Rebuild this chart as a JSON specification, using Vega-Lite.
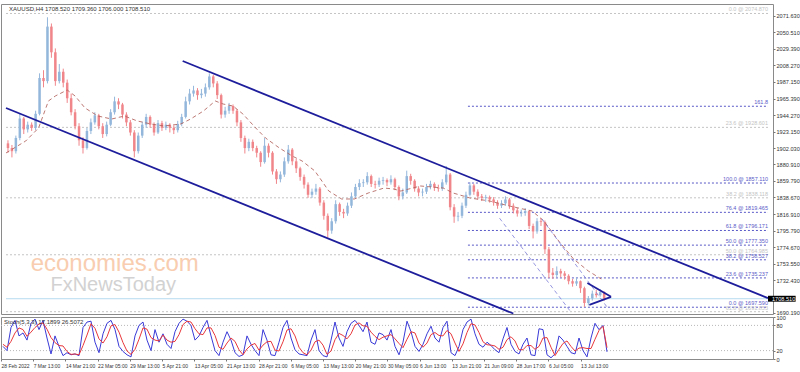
{
"$schema":"https://vega.github.io/schema/vega-lite/v6.json",
"background":"white",
"padding":{"left":0,"top":3,"right":0,"bottom":0},
"spacing":3,
"bounds":"flush",
"datasets":{
"bars":[
{"x":2,"o":1908,"h":1912,"l":1896,"c":1902,"k":30,"d":35},
{"x":6,"o":1902,"h":1906,"l":1890,"c":1898,"k":20,"d":28},
{"x":10,"o":1898,"h":1918,"l":1895,"c":1915,"k":75,"d":42},
{"x":14,"o":1915,"h":1946,"l":1912,"c":1940,"k":92,"d":62},
{"x":18,"o":1940,"h":1942,"l":1920,"c":1926,"k":55,"d":74},
{"x":22,"o":1926,"h":1936,"l":1922,"c":1932,"k":62,"d":70},
{"x":26,"o":1932,"h":1935,"l":1924,"c":1928,"k":45,"d":54},
{"x":30,"o":1928,"h":1950,"l":1925,"c":1946,"k":85,"d":64},
{"x":34,"o":1946,"h":1998,"l":1944,"c":1992,"k":95,"d":75},
{"x":38,"o":1992,"h":2002,"l":1980,"c":1988,"k":70,"d":83},
{"x":42,"o":1988,"h":2070,"l":1985,"c":2058,"k":92,"d":86},
{"x":46,"o":2058,"h":2062,"l":2018,"c":2025,"k":50,"d":71},
{"x":50,"o":2025,"h":2030,"l":1982,"c":1988,"k":12,"d":51},
{"x":54,"o":1988,"h":2010,"l":1985,"c":2000,"k":55,"d":39},
{"x":58,"o":2000,"h":2004,"l":1980,"c":1986,"k":30,"d":32},
{"x":62,"o":1986,"h":1990,"l":1960,"c":1966,"k":8,"d":31},
{"x":66,"o":1966,"h":1972,"l":1944,"c":1948,"k":15,"d":18},
{"x":70,"o":1948,"h":1952,"l":1926,"c":1930,"k":10,"d":11},
{"x":74,"o":1930,"h":1934,"l":1905,"c":1912,"k":12,"d":12},
{"x":78,"o":1912,"h":1916,"l":1895,"c":1902,"k":8,"d":10},
{"x":82,"o":1902,"h":1928,"l":1900,"c":1924,"k":75,"d":32},
{"x":86,"o":1924,"h":1940,"l":1920,"c":1935,"k":88,"d":57},
{"x":90,"o":1935,"h":1948,"l":1932,"c":1944,"k":90,"d":84},
{"x":94,"o":1944,"h":1946,"l":1926,"c":1930,"k":40,"d":73},
{"x":98,"o":1930,"h":1934,"l":1915,"c":1920,"k":15,"d":48},
{"x":102,"o":1920,"h":1936,"l":1917,"c":1932,"k":60,"d":38},
{"x":106,"o":1932,"h":1952,"l":1930,"c":1948,"k":85,"d":53},
{"x":110,"o":1948,"h":1968,"l":1945,"c":1962,"k":92,"d":79},
{"x":114,"o":1962,"h":1966,"l":1952,"c":1958,"k":70,"d":82},
{"x":118,"o":1958,"h":1960,"l":1940,"c":1945,"k":30,"d":64},
{"x":122,"o":1945,"h":1948,"l":1930,"c":1935,"k":18,"d":39},
{"x":126,"o":1935,"h":1938,"l":1918,"c":1922,"k":10,"d":19},
{"x":130,"o":1922,"h":1925,"l":1890,"c":1898,"k":5,"d":11},
{"x":134,"o":1898,"h":1922,"l":1895,"c":1918,"k":55,"d":23},
{"x":138,"o":1918,"h":1936,"l":1915,"c":1932,"k":80,"d":47},
{"x":142,"o":1932,"h":1946,"l":1928,"c":1942,"k":88,"d":74},
{"x":146,"o":1942,"h":1944,"l":1928,"c":1932,"k":45,"d":71},
{"x":150,"o":1932,"h":1935,"l":1918,"c":1922,"k":20,"d":51},
{"x":154,"o":1922,"h":1938,"l":1920,"c":1934,"k":70,"d":45},
{"x":158,"o":1934,"h":1937,"l":1924,"c":1928,"k":40,"d":43},
{"x":162,"o":1928,"h":1936,"l":1925,"c":1932,"k":60,"d":57},
{"x":166,"o":1932,"h":1934,"l":1922,"c":1928,"k":35,"d":45},
{"x":170,"o":1928,"h":1931,"l":1920,"c":1925,"k":25,"d":40},
{"x":174,"o":1925,"h":1937,"l":1922,"c":1933,"k":65,"d":42},
{"x":178,"o":1933,"h":1946,"l":1930,"c":1942,"k":85,"d":58},
{"x":182,"o":1942,"h":1968,"l":1940,"c":1962,"k":95,"d":82},
{"x":186,"o":1962,"h":1978,"l":1958,"c":1972,"k":90,"d":90},
{"x":190,"o":1972,"h":1982,"l":1968,"c":1976,"k":80,"d":88},
{"x":194,"o":1976,"h":1979,"l":1964,"c":1970,"k":45,"d":72},
{"x":198,"o":1970,"h":1978,"l":1966,"c":1972,"k":55,"d":60},
{"x":202,"o":1972,"h":1985,"l":1968,"c":1980,"k":75,"d":58},
{"x":206,"o":1980,"h":1998,"l":1977,"c":1994,"k":92,"d":74},
{"x":210,"o":1994,"h":1996,"l":1980,"c":1985,"k":55,"d":74},
{"x":214,"o":1985,"h":1988,"l":1965,"c":1970,"k":20,"d":56},
{"x":218,"o":1970,"h":1972,"l":1940,"c":1945,"k":8,"d":28},
{"x":222,"o":1945,"h":1955,"l":1941,"c":1950,"k":40,"d":23},
{"x":226,"o":1950,"h":1960,"l":1946,"c":1956,"k":65,"d":38},
{"x":230,"o":1956,"h":1958,"l":1946,"c":1950,"k":45,"d":50},
{"x":234,"o":1950,"h":1952,"l":1930,"c":1935,"k":15,"d":42},
{"x":238,"o":1935,"h":1938,"l":1910,"c":1915,"k":6,"d":22},
{"x":242,"o":1915,"h":1918,"l":1895,"c":1902,"k":10,"d":10},
{"x":246,"o":1902,"h":1914,"l":1898,"c":1910,"k":55,"d":24},
{"x":250,"o":1910,"h":1913,"l":1898,"c":1902,"k":35,"d":33},
{"x":254,"o":1902,"h":1905,"l":1890,"c":1896,"k":20,"d":37},
{"x":258,"o":1896,"h":1898,"l":1878,"c":1884,"k":8,"d":21},
{"x":262,"o":1884,"h":1915,"l":1882,"c":1905,"k":70,"d":33},
{"x":266,"o":1905,"h":1908,"l":1890,"c":1896,"k":45,"d":41},
{"x":270,"o":1896,"h":1898,"l":1868,"c":1872,"k":10,"d":42},
{"x":274,"o":1872,"h":1875,"l":1856,"c":1862,"k":8,"d":21},
{"x":278,"o":1862,"h":1872,"l":1858,"c":1868,"k":40,"d":19},
{"x":282,"o":1868,"h":1890,"l":1865,"c":1885,"k":75,"d":41},
{"x":286,"o":1885,"h":1906,"l":1882,"c":1900,"k":92,"d":69},
{"x":290,"o":1900,"h":1902,"l":1880,"c":1885,"k":50,"d":72},
{"x":294,"o":1885,"h":1888,"l":1870,"c":1876,"k":22,"d":55},
{"x":298,"o":1876,"h":1878,"l":1860,"c":1865,"k":12,"d":28},
{"x":302,"o":1865,"h":1868,"l":1850,"c":1855,"k":10,"d":15},
{"x":306,"o":1855,"h":1858,"l":1838,"c":1842,"k":8,"d":10},
{"x":310,"o":1842,"h":1850,"l":1838,"c":1846,"k":45,"d":21},
{"x":314,"o":1846,"h":1856,"l":1842,"c":1850,"k":70,"d":41},
{"x":318,"o":1850,"h":1852,"l":1828,"c":1832,"k":20,"d":45},
{"x":322,"o":1832,"h":1835,"l":1810,"c":1815,"k":8,"d":33},
{"x":326,"o":1815,"h":1818,"l":1787,"c":1796,"k":5,"d":11},
{"x":330,"o":1796,"h":1812,"l":1792,"c":1808,"k":45,"d":19},
{"x":334,"o":1808,"h":1835,"l":1805,"c":1830,"k":88,"d":46},
{"x":338,"o":1830,"h":1832,"l":1815,"c":1820,"k":50,"d":61},
{"x":342,"o":1820,"h":1824,"l":1812,"c":1818,"k":30,"d":56},
{"x":346,"o":1818,"h":1832,"l":1815,"c":1828,"k":65,"d":48},
{"x":350,"o":1828,"h":1845,"l":1825,"c":1840,"k":85,"d":60},
{"x":354,"o":1840,"h":1856,"l":1838,"c":1852,"k":92,"d":81},
{"x":358,"o":1852,"h":1862,"l":1848,"c":1857,"k":80,"d":86},
{"x":362,"o":1857,"h":1862,"l":1852,"c":1858,"k":65,"d":79},
{"x":366,"o":1858,"h":1871,"l":1855,"c":1866,"k":88,"d":78},
{"x":370,"o":1866,"h":1868,"l":1852,"c":1856,"k":40,"d":64},
{"x":374,"o":1856,"h":1860,"l":1850,"c":1855,"k":35,"d":54},
{"x":378,"o":1855,"h":1864,"l":1852,"c":1860,"k":62,"d":46},
{"x":382,"o":1860,"h":1865,"l":1855,"c":1861,"k":58,"d":52},
{"x":386,"o":1861,"h":1863,"l":1853,"c":1858,"k":45,"d":55},
{"x":390,"o":1858,"h":1867,"l":1855,"c":1862,"k":70,"d":58},
{"x":394,"o":1862,"h":1864,"l":1848,"c":1852,"k":30,"d":48},
{"x":398,"o":1852,"h":1854,"l":1835,"c":1840,"k":10,"d":37},
{"x":402,"o":1840,"h":1850,"l":1836,"c":1845,"k":40,"d":27},
{"x":406,"o":1845,"h":1873,"l":1843,"c":1866,"k":90,"d":47},
{"x":410,"o":1866,"h":1869,"l":1855,"c":1860,"k":65,"d":65},
{"x":414,"o":1860,"h":1862,"l":1846,"c":1850,"k":30,"d":62},
{"x":418,"o":1850,"h":1853,"l":1840,"c":1845,"k":18,"d":38},
{"x":422,"o":1845,"h":1850,"l":1840,"c":1846,"k":35,"d":28},
{"x":426,"o":1846,"h":1856,"l":1843,"c":1852,"k":60,"d":38},
{"x":430,"o":1852,"h":1860,"l":1849,"c":1856,"k":78,"d":58},
{"x":434,"o":1856,"h":1858,"l":1847,"c":1851,"k":50,"d":63},
{"x":438,"o":1851,"h":1855,"l":1846,"c":1850,"k":40,"d":56},
{"x":442,"o":1850,"h":1862,"l":1847,"c":1858,"k":75,"d":55},
{"x":446,"o":1858,"h":1879,"l":1855,"c":1868,"k":90,"d":68},
{"x":450,"o":1868,"h":1870,"l":1822,"c":1826,"k":15,"d":60},
{"x":454,"o":1826,"h":1830,"l":1806,"c":1814,"k":8,"d":38},
{"x":458,"o":1814,"h":1820,"l":1808,"c":1815,"k":30,"d":18},
{"x":462,"o":1815,"h":1832,"l":1812,"c":1828,"k":70,"d":36},
{"x":466,"o":1828,"h":1846,"l":1825,"c":1842,"k":88,"d":63},
{"x":470,"o":1842,"h":1858,"l":1840,"c":1854,"k":95,"d":84},
{"x":474,"o":1854,"h":1856,"l":1842,"c":1846,"k":60,"d":81},
{"x":478,"o":1846,"h":1849,"l":1836,"c":1840,"k":35,"d":63},
{"x":482,"o":1840,"h":1843,"l":1834,"c":1838,"k":28,"d":41},
{"x":486,"o":1838,"h":1842,"l":1833,"c":1839,"k":40,"d":34},
{"x":490,"o":1839,"h":1841,"l":1832,"c":1836,"k":32,"d":33},
{"x":494,"o":1836,"h":1839,"l":1828,"c":1832,"k":22,"d":31},
{"x":498,"o":1832,"h":1835,"l":1824,"c":1828,"k":15,"d":23},
{"x":502,"o":1828,"h":1835,"l":1825,"c":1831,"k":48,"d":28},
{"x":506,"o":1831,"h":1840,"l":1828,"c":1836,"k":75,"d":46},
{"x":510,"o":1836,"h":1838,"l":1824,"c":1828,"k":35,"d":53},
{"x":514,"o":1828,"h":1831,"l":1818,"c":1822,"k":18,"d":43},
{"x":518,"o":1822,"h":1825,"l":1814,"c":1818,"k":12,"d":22},
{"x":522,"o":1818,"h":1823,"l":1814,"c":1819,"k":35,"d":22},
{"x":526,"o":1819,"h":1825,"l":1815,"c":1821,"k":50,"d":32},
{"x":530,"o":1821,"h":1822,"l":1798,"c":1802,"k":10,"d":32},
{"x":534,"o":1802,"h":1805,"l":1786,"c":1795,"k":8,"d":23},
{"x":538,"o":1795,"h":1812,"l":1792,"c":1808,"k":72,"d":30},
{"x":542,"o":1808,"h":1812,"l":1802,"c":1807,"k":70,"d":50},
{"x":546,"o":1807,"h":1809,"l":1766,"c":1772,"k":10,"d":51},
{"x":550,"o":1772,"h":1775,"l":1735,"c":1742,"k":3,"d":28},
{"x":554,"o":1742,"h":1748,"l":1734,"c":1739,"k":12,"d":8},
{"x":558,"o":1739,"h":1750,"l":1736,"c":1744,"k":55,"d":23},
{"x":562,"o":1744,"h":1747,"l":1736,"c":1741,"k":45,"d":37},
{"x":566,"o":1741,"h":1744,"l":1733,"c":1738,"k":30,"d":43},
{"x":570,"o":1738,"h":1740,"l":1727,"c":1731,"k":15,"d":30},
{"x":574,"o":1731,"h":1734,"l":1724,"c":1728,"k":12,"d":19},
{"x":578,"o":1728,"h":1736,"l":1725,"c":1731,"k":50,"d":26},
{"x":582,"o":1731,"h":1732,"l":1716,"c":1722,"k":20,"d":27},
{"x":586,"o":1722,"h":1724,"l":1698,"c":1703,"k":5,"d":25},
{"x":590,"o":1703,"h":1712,"l":1700,"c":1709,"k":50,"d":25},
{"x":594,"o":1709,"h":1719,"l":1706,"c":1715,"k":85,"d":47},
{"x":598,"o":1715,"h":1720,"l":1710,"c":1713,"k":70,"d":68},
{"x":602,"o":1713,"h":1721,"l":1711,"c":1717,"k":80,"d":78},
{"x":606,"o":1717,"h":1718,"l":1706,"c":1708.51,"k":17,"d":27}
],
"ma":[
{"x":0,"v":1895.7},{"x":20,"v":1911.1},{"x":33,"v":1927.8},{"x":43,"v":1962.5},{"x":50,"v":1968.9},{"x":62,"v":1976.6},{"x":70,"v":1968.9},{"x":80,"v":1953.5},{"x":93,"v":1943.2},{"x":107,"v":1939.3},{"x":120,"v":1943.2},{"x":133,"v":1936.8},{"x":147,"v":1932.9},{"x":160,"v":1930.4},{"x":177,"v":1932.9},{"x":187,"v":1939.3},{"x":200,"v":1949.6},{"x":212,"v":1962.5},{"x":220,"v":1958.6},{"x":230,"v":1956.0},{"x":240,"v":1945.8},{"x":253,"v":1927.8},{"x":263,"v":1914.9},{"x":277,"v":1902.1},{"x":290,"v":1891.8},{"x":300,"v":1885.4},{"x":313,"v":1872.5},{"x":327,"v":1846.9},{"x":340,"v":1836.6},{"x":353,"v":1836.6},{"x":367,"v":1844.3},{"x":383,"v":1850.7},{"x":393,"v":1849.4},{"x":400,"v":1846.8},{"x":420,"v":1853.3},{"x":443,"v":1850.7},{"x":453,"v":1844.3},{"x":470,"v":1837.9},{"x":490,"v":1834.0},{"x":510,"v":1827.6},{"x":533,"v":1821.2},{"x":545,"v":1808.3},{"x":560,"v":1782.6},{"x":575,"v":1759.5},{"x":590,"v":1744.1},{"x":603,"v":1733.9}
],
"fib":[
{"s":"g","t":"0.0 @ 2074.870","p":2074.87,"x0":0,"x1":772},
{"s":"g","t":"23.6 @ 1928.601","p":1928.601,"x0":0,"x1":772},
{"s":"g","t":"38.2 @ 1838.118","p":1838.118,"x0":0,"x1":772},
{"s":"g","t":"50.0 @ 1764.985","p":1764.985,"x0":0,"x1":772},
{"s":"g","t":"61.8 @ 1691.853","p":1691.853,"x0":0,"x1":772},
{"s":"b","t":"161.8","p":1955.7,"x0":468,"x1":772},
{"s":"b","t":"100.0 @ 1857.110","p":1857.11,"x0":468,"x1":772},
{"s":"b","t":"76.4 @ 1819.465","p":1819.465,"x0":468,"x1":772},
{"s":"b","t":"61.8 @ 1796.171","p":1796.171,"x0":468,"x1":772},
{"s":"b","t":"50.0 @ 1777.350","p":1777.35,"x0":468,"x1":772},
{"s":"b","t":"38.2 @ 1758.527","p":1758.527,"x0":468,"x1":772},
{"s":"b","t":"23.6 @ 1735.237","p":1735.237,"x0":468,"x1":772},
{"s":"b","t":"0.0 @ 1697.590","p":1697.59,"x0":468,"x1":772}
],
"chan":[
{"id":"L","x":0,"p":1953.5},{"id":"L","x":514,"p":1689.5},
{"id":"U","x":179,"p":2013.8},{"id":"U","x":772,"p":1709.2},
{"id":"T1","x":589,"p":1728.7},{"id":"T1","x":613,"p":1711.0},
{"id":"T2","x":591,"p":1700.7},{"id":"T2","x":613,"p":1711.0}
],
"dash":[
{"id":"D1","x":500,"p":1812},{"id":"D1","x":572,"p":1692},
{"id":"D2","x":543,"p":1811},{"id":"D2","x":610,"p":1696}
],
"cur":[{"p":1708.51,"t":"1708.510","x0":0,"x1":772,"bx":772,"bx2":800,"bt":1712.3,"bb":1704.7}],
"wm1":[{"t":"economies.com","x":25,"p":1744}],
"wm2":[{"t":"FxNewsToday","x":45,"p":1718.4}],
"head":[{"t":"XAUUSD,H4  1708.520 1709.360 1706.000 1708.510","x":3,"p":2080.6}],
"slev":[{"v":20},{"v":80}],
"shead":[{"t":"Stoch(5,3,3) 17.1899 26.5072","x":3,"v":88}]
},
"vconcat":[
{
"width":772,"height":310,
"layer":[
{"data":{"name":"fib"},"mark":{"type":"rule","strokeDash":[2,2],"strokeWidth":1},
 "encoding":{"x":{"field":"x0","type":"quantitative","scale":{"domain":[0,772],"nice":false,"zero":false},"axis":null},"x2":{"field":"x1"},
 "y":{"field":"p","type":"quantitative","scale":{"domain":[1688.9,2087.04],"nice":false,"zero":false},"axis":{"orient":"right","title":null,"tickCount":40,"labelOverlap":false,"labelBound":false,"values":[2071.63,2050.51,2029.39,2008.27,1987.15,1965.39,1944.27,1923.15,1902.03,1880.91,1859.79,1838.67,1816.91,1795.79,1774.67,1753.55,1732.43,1690.19],"format":".3f"}},
 "color":{"field":"s","type":"nominal","scale":{"domain":["b","g"],"range":["#5a5ac8","#c4c4c4"]},"legend":null}}},
{"data":{"name":"cur"},"mark":{"type":"rule","color":"#b5dcef","strokeWidth":1},
 "encoding":{"x":{"field":"x0","type":"quantitative","scale":{"domain":[0,772],"nice":false}},"x2":{"field":"x1"},"y":{"field":"p","type":"quantitative","scale":{"domain":[1688.9,2087.04],"nice":false,"zero":false}}}},
{"data":{"name":"wm1"},"mark":{"type":"text","font":"Liberation Sans","fontSize":24,"color":"#f8cdb0","align":"left","baseline":"alphabetic"},
 "encoding":{"x":{"field":"x","type":"quantitative","scale":{"domain":[0,772],"nice":false}},"y":{"field":"p","type":"quantitative","scale":{"domain":[1688.9,2087.04],"nice":false,"zero":false}},"text":{"field":"t"}}},
{"data":{"name":"wm2"},"mark":{"type":"text","font":"Liberation Sans","fontSize":20,"color":"#d2d2d2","align":"left","baseline":"alphabetic"},
 "encoding":{"x":{"field":"x","type":"quantitative","scale":{"domain":[0,772],"nice":false}},"y":{"field":"p","type":"quantitative","scale":{"domain":[1688.9,2087.04],"nice":false,"zero":false}},"text":{"field":"t"}}},
{"data":{"name":"bars"},"mark":{"type":"rule","strokeWidth":1},
 "encoding":{"x":{"field":"x","type":"quantitative","scale":{"domain":[0,772],"nice":false}},"y":{"field":"l","type":"quantitative","scale":{"domain":[1688.9,2087.04],"nice":false,"zero":false}},"y2":{"field":"h"},
 "color":{"condition":{"test":"datum.c >= datum.o","value":"#93b6db"},"value":"#f0858a"}}},
{"data":{"name":"bars"},"mark":{"type":"bar","width":2.5},
 "encoding":{"x":{"field":"x","type":"quantitative","scale":{"domain":[0,772],"nice":false}},"y":{"field":"o","type":"quantitative","scale":{"domain":[1688.9,2087.04],"nice":false,"zero":false}},"y2":{"field":"c"},
 "color":{"condition":{"test":"datum.c >= datum.o","value":"#93b6db"},"value":"#f0858a"}}},
{"data":{"name":"ma"},"mark":{"type":"line","color":"#b0605a","strokeWidth":1,"strokeDash":[4,3],"opacity":0.85},
 "encoding":{"x":{"field":"x","type":"quantitative","scale":{"domain":[0,772],"nice":false}},"y":{"field":"v","type":"quantitative","scale":{"domain":[1688.9,2087.04],"nice":false,"zero":false}}}},
{"data":{"name":"dash"},"mark":{"type":"line","color":"#7c7cd8","strokeWidth":0.8,"strokeDash":[4,3]},
 "encoding":{"x":{"field":"x","type":"quantitative","scale":{"domain":[0,772],"nice":false}},"y":{"field":"p","type":"quantitative","scale":{"domain":[1688.9,2087.04],"nice":false,"zero":false}},"detail":{"field":"id"}}},
{"data":{"name":"chan"},"mark":{"type":"line","color":"#1e1e9c","strokeWidth":1.8},
 "encoding":{"x":{"field":"x","type":"quantitative","scale":{"domain":[0,772],"nice":false}},"y":{"field":"p","type":"quantitative","scale":{"domain":[1688.9,2087.04],"nice":false,"zero":false}},"detail":{"field":"id"}}},
{"data":{"name":"fib"},"mark":{"type":"text","fontSize":5.5,"align":"right","baseline":"bottom","dy":-1,"font":"Liberation Sans"},
 "encoding":{"x":{"field":"x1","type":"quantitative","scale":{"domain":[0,772],"nice":false}},"y":{"field":"p","type":"quantitative","scale":{"domain":[1688.9,2087.04],"nice":false,"zero":false}},"text":{"field":"t"},
 "color":{"field":"s","type":"nominal","scale":{"domain":["b","g"],"range":["#5a5ac8","#bdbdbd"]},"legend":null}}},
{"data":{"name":"head"},"mark":{"type":"text","fontSize":6,"align":"left","baseline":"middle","color":"#333333","font":"Liberation Sans"},
 "encoding":{"x":{"field":"x","type":"quantitative","scale":{"domain":[0,772],"nice":false}},"y":{"field":"p","type":"quantitative","scale":{"domain":[1688.9,2087.04],"nice":false,"zero":false}},"text":{"field":"t"}}},
{"data":{"name":"cur"},"mark":{"type":"rect","color":"#000000"},
 "encoding":{"x":{"field":"bx","type":"quantitative","scale":{"domain":[0,772],"nice":false}},"x2":{"field":"bx2"},"y":{"field":"bt","type":"quantitative","scale":{"domain":[1688.9,2087.04],"nice":false,"zero":false}},"y2":{"field":"bb"}}},
{"data":{"name":"cur"},"mark":{"type":"text","fontSize":5.6,"align":"left","baseline":"middle","color":"#ffffff","dx":4,"font":"Liberation Sans"},
 "encoding":{"x":{"field":"bx","type":"quantitative","scale":{"domain":[0,772],"nice":false}},"y":{"field":"p","type":"quantitative","scale":{"domain":[1688.9,2087.04],"nice":false,"zero":false}},"text":{"field":"t"}}}
]
},
{
"width":772,"height":42,
"layer":[
{"data":{"name":"slev"},"mark":{"type":"rule","color":"#b8b8b8","strokeDash":[1,2]},
 "encoding":{"y":{"field":"v","type":"quantitative","scale":{"domain":[0,100],"nice":false},"axis":{"orient":"right","title":null,"tickCount":10,"labelOverlap":false,"values":[0,20,80,100]}}}},
{"data":{"name":"bars"},"mark":{"type":"line","color":"#3a3ad8","strokeWidth":1},
 "encoding":{"x":{"field":"x","type":"quantitative","scale":{"domain":[0,772],"nice":false},
   "axis":{"title":null,"tickCount":40,"labelOverlap":false,"labelFontSize":5,"values":[0,32.2,64.4,96.6,128.8,161,193.2,225.4,257.6,289.8,322,354.2,386.4,418.6,450.8,483,515.2,547.4,579.6],"labelAlign":"left","labelPadding":2,"labelFlush":false,
   "labelExpr":"['28 Feb 2022','7 Mar 13:00','14 Mar 21:00','22 Mar 05:00','29 Mar 13:00','5 Apr 21:00','13 Apr 05:00','21 Apr 13:00','28 Apr 21:00','6 May 05:00','13 May 13:00','20 May 21:00','30 May 05:00','6 Jun 13:00','13 Jun 21:00','21 Jun 09:00','28 Jun 17:00','6 Jul 05:00','13 Jul 13:00'][round(datum.value/32.2)]"}},
  "y":{"field":"k","type":"quantitative","scale":{"domain":[0,100],"nice":false}}}},
{"data":{"name":"bars"},"mark":{"type":"line","color":"#e8383c","strokeWidth":1},
 "encoding":{"x":{"field":"x","type":"quantitative","scale":{"domain":[0,772],"nice":false}},"y":{"field":"d","type":"quantitative","scale":{"domain":[0,100],"nice":false}}}},
{"data":{"name":"shead"},"mark":{"type":"text","fontSize":6,"align":"left","baseline":"middle","color":"#333333","font":"Liberation Sans"},
 "encoding":{"x":{"field":"x","type":"quantitative","scale":{"domain":[0,772],"nice":false}},"y":{"field":"v","type":"quantitative","scale":{"domain":[0,100],"nice":false}},"text":{"field":"t"}}}
]
}
],
"config":{
"view":{"stroke":"#8a8a8a"},
"axis":{"labelFont":"Liberation Sans","labelFontSize":5.6,"labelColor":"#333333","tickColor":"#777777","tickSize":2,"labelPadding":1,"domain":false,"grid":false,"labelOverlap":false}
}
}
